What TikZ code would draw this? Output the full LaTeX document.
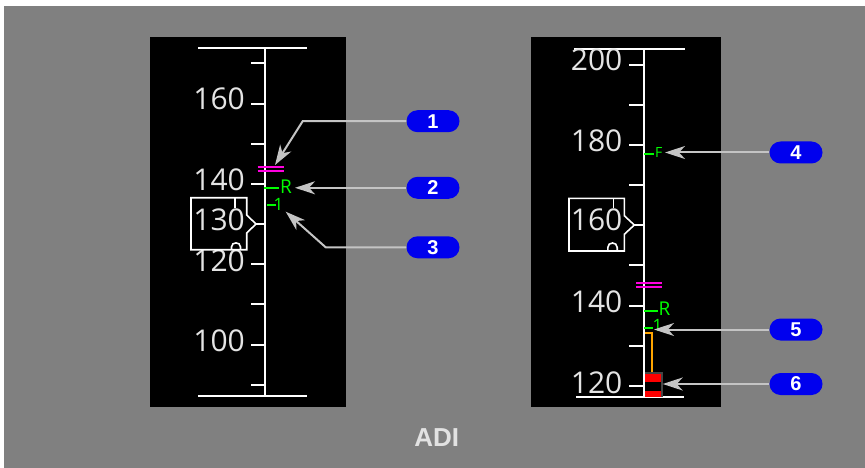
\documentclass[tikz,border=0pt]{standalone}
\usepackage{fontspec}
\setmainfont{Open Sans}
\newfontfamily\pillfont{Liberation Sans}
\usetikzlibrary{arrows.meta}
\definecolor{bg}{HTML}{808080}
\definecolor{tapetext}{HTML}{E4E4E4}
\definecolor{grn}{HTML}{00FF00}
\definecolor{mag}{HTML}{FF00E0}
\definecolor{org}{HTML}{FFA500}
\definecolor{pillblue}{HTML}{0000EE}
\definecolor{leadergray}{HTML}{C4C4C4}
\definecolor{boxgray}{HTML}{444444}
\definecolor{adigray}{HTML}{E2E2E2}
\begin{document}
\begin{tikzpicture}[x=1pt,y=-1pt,
  tapeline/.style={white, line width=2pt},
  tickline/.style={white, line width=2pt},
  scalelbl/.style={text=tapetext, font=\fontsize{30}{30}\selectfont, inner sep=0pt, anchor=base east},
  readbox/.style={white, line width=1.6pt, fill=black},
  magbar/.style={mag, line width=2pt},
  grnline/.style={grn, line width=2pt},
  grnlbl/.style={text=grn, inner sep=0pt, anchor=base west},
  pill/.style={fill=pillblue, rounded corners=11pt, minimum width=53pt, minimum height=22pt, inner sep=0pt,
    text=white, font=\pillfont\bfseries\fontsize{20}{20}\selectfont},
  leader/.style={leadergray, line width=2pt, -{Stealth[length=20pt,width=13pt,inset=6pt]}},
]
\useasboundingbox (0,0) rectangle (865,468);
\fill[white] (0,0) rectangle (865,468);
\fill[bg] (4,6) rectangle (865,468);

% panels
\fill[black] (150,37) rectangle (346,407);
\fill[black] (531,37) rectangle (721,407);

% ---------- left tape ----------
\draw[tapeline] (265,47.7) -- (265,396);
\draw[tapeline] (198,47.7) -- (306.7,47.7);
\draw[tapeline] (198,396) -- (306.7,396);
\foreach \y in {62.7,103.7,143.7,183.7,264,304.3,345,385}
  \draw[tickline] (251,\y) -- (265,\y);
\node[scalelbl] (l160) at (245,109.5) {160};
\node[scalelbl] (l140) at (245,190) {140};
\node[scalelbl] (l120) at (245,271) {120};
\node[scalelbl] (l100) at (245,351.5) {100};

% readout box left
\draw[readbox] (191,197.7) -- (246.7,197.7) -- (246.7,215) -- (256,224) -- (246.7,233) -- (246.7,249.7) -- (191,249.7) -- cycle;
\draw[white, line width=1.6pt] (256,224) -- (265,224);
\draw[white, line width=1.6pt] (235,197.7) -- (235,208);
\node[scalelbl] (lread) at (245,230) {130};
\draw[white, line width=1.6pt] (231.5,249.7) -- (231.5,247) .. controls (231.5,241.5) and (240.5,241.5) .. (240.5,247) -- (240.5,249.7);

% markers left
\draw[magbar] (257.7,167) -- (284,167);
\draw[magbar] (257.7,171) -- (284,171);
\draw[grnline] (264,188) -- (279,188);
\node[grnlbl, font=\fontsize{19}{19}\selectfont] (lR) at (280,193.4) {R};
\draw[grnline] (267,204.7) -- (275.7,204.7);
\node[grnlbl, font=\fontsize{17}{17}\selectfont] (l1) at (273.5,210.8) {1};

% ---------- right tape ----------
\draw[tapeline] (644.3,49.3) -- (644.3,397.3);
\draw[tapeline] (574,49.3) -- (685,49.3);
\draw[tapeline] (576,397.3) -- (684,397.3);
\foreach \y in {64.7,104.7,144.7,184.7,265,305.7,345.7,385.7}
  \draw[tickline] (629,\y) -- (644.3,\y);
\node[scalelbl] (r200) at (622.5,70.5) {200};
\node[scalelbl] (r180) at (622.5,151.5) {180};
\node[scalelbl] (r140) at (622.5,312.5) {140};
\node[scalelbl] (r120) at (622.5,393) {120};

% readout box right
\draw[readbox] (569,198.3) -- (624.3,198.3) -- (624.3,215.7) -- (634.3,225) -- (624.3,234.3) -- (624.3,251) -- (569,251) -- cycle;
\draw[white, line width=1.6pt] (634.3,225) -- (644.3,225);
\draw[white, line width=1.6pt] (613.3,198.3) -- (613.3,207.7);
\node[scalelbl] (rread) at (622.5,230.7) {160};
\draw[white, line width=1.6pt] (607.8,251) -- (607.8,247.5) .. controls (607.8,241.5) and (617.2,241.5) .. (617.2,247.5) -- (617.2,251);

% markers right
\draw[grnline] (644.3,153.7) -- (654,153.7);
\node[grnlbl, font=\fontsize{14}{14}\selectfont] (rF) at (655,158) {F};
\draw[magbar] (636,282.7) -- (661.7,282.7);
\draw[magbar] (636,286.7) -- (661.7,286.7);
\draw[grnline] (644.3,310.7) -- (657.7,310.7);
\node[grnlbl, font=\fontsize{19}{19}\selectfont] (rR) at (658.5,315.4) {R};
\draw[grnline] (644.3,327.7) -- (653.3,327.7);
\node[grnlbl, font=\fontsize{17}{17}\selectfont] (r1) at (652.5,331.2) {1};
\draw[org, line width=2pt] (645,332.7) -- (652.3,332.7) -- (652.3,372.3);
\fill[red] (645.3,372.3) rectangle (661.5,397);
\fill[black] (645.3,381.7) rectangle (661.5,390.7);
\draw[boxgray, line width=2pt] (645.3,373) -- (661.5,373) -- (661.5,397);

% ---------- callouts ----------
\node[pill] (c1) at (433,121.2) {1};
\node[pill] (c2) at (433,187.8) {2};
\node[pill] (c3) at (433,247.3) {3};
\node[pill] (c4) at (796,152.5) {4};
\node[pill] (c5) at (796,329.5) {5};
\node[pill] (c6) at (796,384) {6};

\coordinate (t1) at (275,165);
\coordinate (t2) at (295,187.8);
\coordinate (t3) at (285.7,211.7);
\coordinate (t4) at (665,152.5);
\coordinate (t5) at (654,329.5);
\coordinate (t6) at (662.7,384);
\coordinate (k1) at (302.7,121.2);
\coordinate (k3) at (325.7,247.3);

\draw[leader] (c1.west) -- (k1) -- (t1);
\draw[leader] (c2.west) -- (t2);
\draw[leader] (c3.west) -- (k3) -- (t3);
\draw[leader] (c4.west) -- (t4);
\draw[leader] (c5.west) -- (t5);
\draw[leader] (c6.west) -- (t6);

\node[text=adigray, inner sep=0pt, anchor=base, font=\pillfont\bfseries\fontsize{26}{26}\selectfont] (adi) at (436.7,446.7) {ADI};
\end{tikzpicture}
\end{document}
